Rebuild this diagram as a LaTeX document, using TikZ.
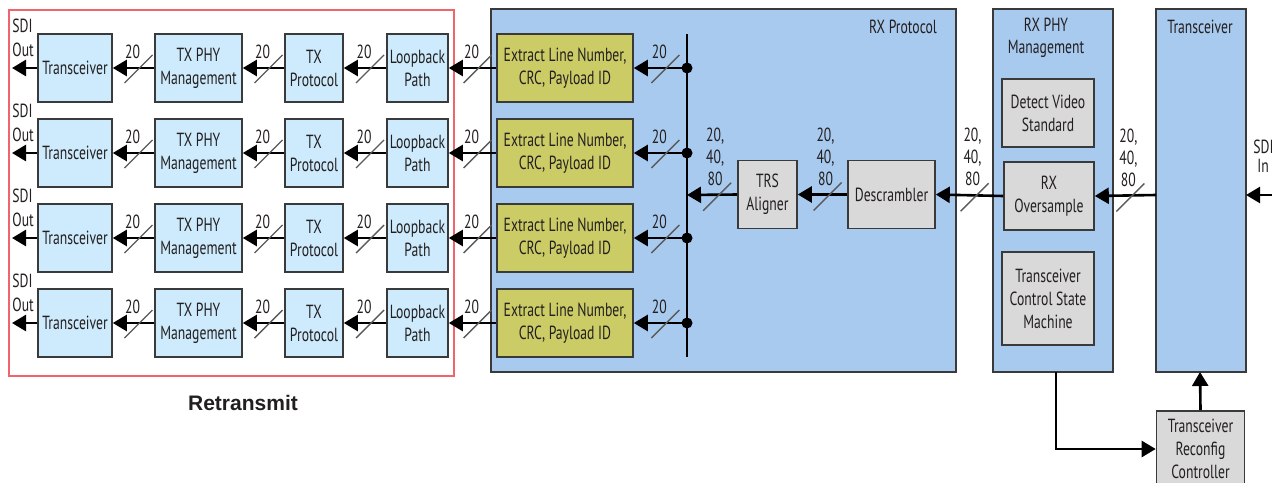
\documentclass[tikz,border=0pt]{standalone}
\usepackage{fontspec}
\setmainfont{PT Sans}[FakeStretch=0.72]
\newfontfamily\headfont{Liberation Sans}
\usetikzlibrary{arrows.meta,calc}

\definecolor{ink}{HTML}{231F20}
\definecolor{edge}{HTML}{3A3A3A}
\definecolor{txfill}{HTML}{CDEBFC}
\definecolor{rxfill}{HTML}{A8CAEE}
\definecolor{grayfill}{HTML}{D9D9D9}
\definecolor{olivefill}{HTML}{CCCC66}
\definecolor{frame}{HTML}{F0646E}
\definecolor{slashcol}{HTML}{5A5A5A}

\tikzset{
  blk/.style={draw=edge, line width=0.8pt, inner sep=0pt, align=center,
    font=\fontsize{9.5}{11.5}\selectfont, text=ink, minimum height=34pt},
  txb/.style={blk, fill=txfill},
  grayb/.style={blk, fill=grayfill},
  oliveb/.style={blk, fill=olivefill},
  panel/.style={draw=edge, line width=0.8pt, fill=rxfill},
  sig/.style={line width=1.3pt, -{Triangle[length=7pt,width=8pt]}},
  plain/.style={line width=1.3pt},
  slashmark/.style={draw=slashcol, line width=0.7pt},
  lbl/.style={font=\fontsize{9.5}{11}\selectfont, text=ink, inner sep=0pt, align=center},
  dotn/.style={circle, fill=black, inner sep=0pt, minimum size=5.5pt},
}

% bus wire with width slash and label: from, to, label
\newcommand\buswire[3]{%
  \draw[sig] (#1) -- coordinate (m) (#2);
  \draw[slashmark] ($(m)+(-9,15)$) -- ($(m)+(19,-13)$);
  \node[lbl] at ($(m)+(-1,-16)$) {#3};
}
% wide bus wire with three-line width label
\newcommand\widewire[2]{%
  \draw[sig] (#1) -- coordinate (m) (#2);
  \draw[slashmark] ($(m)+(-9,16)$) -- ($(m)+(19,-12)$);
  \node[lbl] at ($(m)+(3,-38)$) {20,\\40,\\80};
}

\begin{document}
\begin{tikzpicture}[x=0.5pt,y=-0.5pt]
\useasboundingbox (0,0) rectangle (1272,482);
\fill[white] (0,0) rectangle (1272,482);

% retransmit frame
\draw[frame, line width=0.8pt] (9,10) rectangle (454,376);
\node[font=\headfont\bfseries\fontsize{10.5}{12}\selectfont, text=ink] (rt) at (243,403) {Retransmit};

% receive panels
\draw[panel] (491,9) rectangle (956,372);
\node[lbl] (rxp) at (903,27) {RX Protocol};
\draw[panel] (993,9) rectangle (1113,372);
\node[lbl] (rxphy) at (1046,38) {RX PHY\\Management};
\draw[panel] (1156,9) rectangle (1246,372);
\node[lbl] (xcvr) at (1200,27) {Transceiver};
\coordinate (phybot) at (1056,372);
\coordinate (xcvrbot) at (1200,372);
\coordinate (xcvrleft) at (1156,195);
\coordinate (xcvrright) at (1246,195);

% distribution bus
\draw[plain] (687,34) -- (687,357);
\coordinate (bus) at (687,195);

% four retransmit channels
\foreach \r/\y in {1/68,2/153,3/238,4/323}{
  \node[txb, minimum width=37pt] (tr\r) at (75,\y) {Transceiver};
  \node[txb, minimum width=43.5pt] (phy\r) at (198.5,\y) {TX PHY\\Management};
  \node[txb, minimum width=29pt] (txp\r) at (314,\y) {TX\\Protocol};
  \node[txb, minimum width=30.5pt] (lb\r) at (417.5,\y) {Loopback\\Path};
  \node[oliveb, minimum width=68pt] (ex\r) at (565,\y) {Extract Line Number,\\CRC, Payload ID};
  \node[dotn] (d\r) at (687,\y) {};
  \coordinate (so\r) at (12,\y);
  \node[lbl, anchor=west] (sdi\r) at (12,\y-42) {SDI};
  \node[lbl, anchor=west] (out\r) at (12,\y-18) {Out};
  \draw[sig] (tr\r.west) -- (so\r);
  \buswire{phy\r.west}{tr\r.east}{20}
  \buswire{txp\r.west}{phy\r.east}{20}
  \buswire{lb\r.west}{txp\r.east}{20}
  \buswire{ex\r.west}{lb\r.east}{20}
  \buswire{d\r.center}{ex\r.east}{20}
}

% receive chain
\node[grayb, minimum width=29.5pt] (trs) at (767.5,194.5) {TRS\\Aligner};
\node[grayb, minimum width=43.5pt] (desc) at (891.5,194.5) {Descrambler};
\node[grayb, minimum width=46pt] (dvs) at (1048,113) {Detect Video\\Standard};
\node[grayb, minimum width=45pt] (ovs) at (1049,196) {RX\\Oversample};
\node[grayb, minimum width=46pt, minimum height=46.5pt] (tcsm) at (1048,298.5) {Transceiver\\Control State\\Machine};
\node[grayb, minimum width=44pt, minimum height=38pt] (rcfg) at (1200.5,449) {Transceiver\\Reconfig\\Controller};

\widewire{trs.west}{bus}
\widewire{desc.west}{trs.east}
\widewire{ovs.west}{desc.east}
\widewire{xcvrleft}{ovs.east}

% serial input
\coordinate (sdiin) at (1280,195);
\draw[sig] (sdiin) -- (xcvrright);
\node[lbl, anchor=west] (sdiinl) at (1253,147) {SDI};
\node[lbl, anchor=west] (inl) at (1257,166) {In};

% reconfiguration path
\draw[sig] (phybot) |- (rcfg.west);
\draw[sig] (rcfg.north) -- (xcvrbot);
\end{tikzpicture}
\end{document}
